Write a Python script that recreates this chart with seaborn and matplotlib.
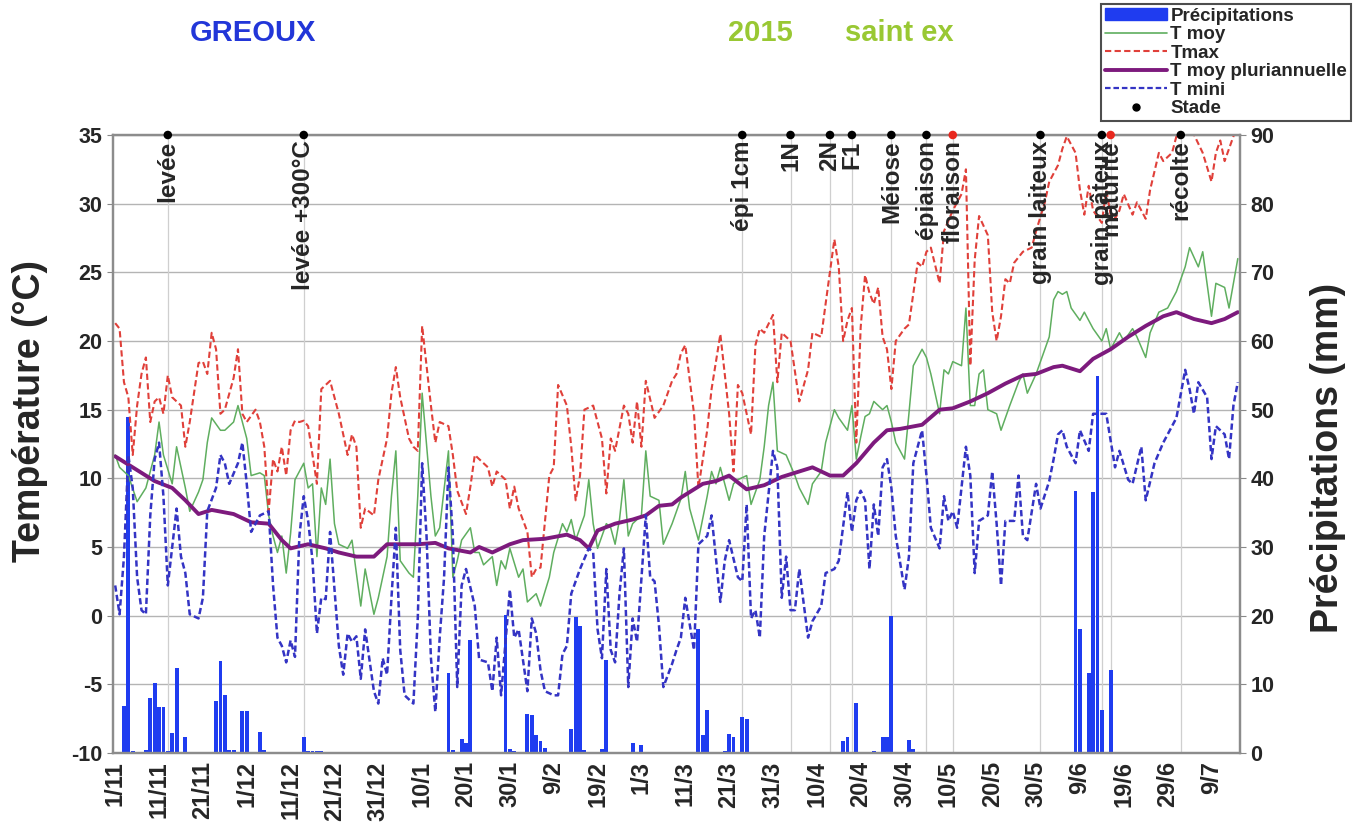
import matplotlib
matplotlib.use("Agg")
import matplotlib.pyplot as plt
from matplotlib.lines import Line2D
from matplotlib.patches import Patch
import seaborn as sns
import pandas as pd

# Daily weather, Gréoux, 1 Nov 2014 -> 15 Jul 2015 (day 0 = 1/11/2014)
START = pd.Timestamp("2014-11-01")
N_DAYS = 257

tmax_day = [0, 1, 2, 3, 4, 5, 6, 7, 8, 9, 10, 11, 12, 13, 15, 16, 17, 19, 20, 21, 22, 23, 24, 25, 27, 28, 29, 30,
            32, 33, 34, 35, 36, 37, 38, 39, 40, 41, 42, 43, 44, 46, 47, 48, 49, 51, 53, 54, 55, 56, 57, 59, 60, 62,
            63, 64, 65, 67, 68, 69, 70, 72, 73, 74, 76, 77, 78, 80, 81, 82, 83, 84, 85, 86, 87, 89, 90, 91, 92, 94,
            95, 96, 97, 99, 100, 101, 103, 104, 105, 106, 107, 109, 111, 112, 113, 114, 116, 117, 118, 119, 120,
            121, 123, 125, 127, 128, 129, 130, 132, 133, 135, 136, 138, 140, 141, 142, 143, 145, 146, 147, 148,
            150, 151, 152, 154, 156, 158, 159, 161, 162, 164, 165, 166, 167, 168, 169, 170, 171, 172, 173, 174,
            175, 176, 177, 178, 180, 181, 183, 184, 185, 186, 188, 189, 191, 193, 194, 195, 196, 197, 199, 200,
            201, 202, 203, 204, 205, 207, 209, 210, 212, 213, 215, 216, 217, 219, 220, 221, 222, 223, 225, 226,
            227, 228, 229, 230, 232, 233, 235, 236, 238, 239, 241, 242, 244, 245, 248, 250, 251, 252, 253, 255, 256]
tmax = [21.3, 20.9, 17.0, 15.9, 11.7, 15.3, 17.6, 18.8, 14.1, 15.6, 15.9, 14.7, 17.5, 15.9, 15.3, 12.3, 14.1, 18.4,
        18.5, 17.6, 20.6, 19.4, 14.7, 15.0, 17.3, 19.4, 14.7, 14.1, 15.0, 14.1, 12.3, 7.6, 11.4, 10.5, 12.3, 10.2,
        13.5, 14.2, 14.1, 14.2, 13.8, 9.6, 16.5, 16.8, 17.1, 14.7, 11.7, 13.2, 12.3, 6.4, 7.8, 7.3, 9.9, 12.9,
        16.2, 18.1, 15.9, 12.9, 12.3, 12.0, 21.1, 15.3, 12.6, 14.1, 13.8, 11.7, 9.1, 7.4, 9.4, 11.7, 11.4, 11.1,
        10.8, 9.4, 10.5, 9.9, 7.8, 9.4, 7.8, 6.1, 2.8, 3.4, 3.5, 10.2, 10.8, 16.8, 15.3, 12.3, 8.4, 10.2, 15.0,
        15.3, 12.9, 8.9, 12.9, 12.0, 15.3, 14.7, 12.6, 15.6, 12.3, 17.1, 14.4, 15.3, 17.1, 17.6, 19.1, 19.7,
        14.7, 9.3, 13.5, 16.5, 20.5, 14.7, 10.5, 16.8, 16.2, 13.2, 19.7, 20.9, 20.6, 21.9, 17.0, 20.6, 20.0,
        15.6, 17.9, 20.6, 20.3, 22.7, 27.4, 25.4, 20.0, 21.5, 22.4, 12.6, 21.0, 24.8, 23.5, 22.7, 23.9, 20.3,
        19.4, 16.5, 20.0, 20.9, 21.2, 25.7, 25.4, 26.5, 26.8, 24.2, 28.0, 29.5, 30.7, 32.5, 18.2, 25.9, 29.1,
        27.7, 22.1, 20.0, 21.8, 24.5, 24.2, 25.7, 26.5, 26.8, 28.0, 30.1, 31.6, 32.8, 34.0, 34.9, 33.7, 31.0,
        29.2, 31.3, 29.5, 28.6, 31.0, 29.2, 28.9, 29.5, 30.7, 29.2, 30.1, 28.9, 31.0, 33.7, 33.1, 33.7, 34.9,
        35.4, 35.7, 33.7, 31.6, 33.7, 34.6, 33.1, 34.9, 35.7]

tmoy_day = [0, 1, 3, 5, 7, 9, 10, 11, 13, 14, 16, 17, 19, 20, 21, 22, 24, 25, 27, 28, 30, 31, 33, 34, 35, 36, 37,
            38, 39, 40, 41, 43, 44, 45, 46, 47, 48, 49, 50, 51, 53, 54, 56, 57, 59, 60, 62, 63, 64, 65, 67, 68, 69,
            70, 72, 73, 74, 76, 77, 78, 79, 81, 82, 83, 84, 86, 87, 88, 89, 90, 92, 93, 94, 96, 97, 99, 100, 102,
            103, 104, 105, 107, 108, 109, 110, 112, 113, 114, 115, 116, 117, 118, 120, 121, 122, 124, 125, 127,
            129, 130, 131, 133, 135, 136, 137, 138, 140, 141, 142, 144, 145, 147, 148, 149, 150, 151, 153, 155,
            156, 158, 159, 161, 162, 164, 165, 167, 168, 169, 170, 171, 172, 173, 175, 176, 177, 178, 180, 181,
            182, 184, 185, 186, 188, 189, 190, 191, 193, 194, 195, 196, 197, 198, 199, 201, 202, 204, 206, 207,
            208, 210, 211, 213, 214, 215, 216, 217, 218, 220, 221, 223, 225, 226, 227, 229, 230, 232, 233, 235,
            236, 238, 240, 242, 244, 245, 247, 248, 250, 251, 253, 254, 256]
tmoy = [11.7, 10.8, 10.2, 8.3, 9.3, 11.7, 14.1, 11.7, 9.6, 12.3, 9.3, 7.6, 9.0, 9.9, 12.6, 14.4, 13.5, 13.5, 14.1,
        15.3, 12.9, 10.2, 10.4, 10.2, 7.3, 5.8, 4.6, 5.8, 3.1, 6.0, 9.9, 11.1, 9.3, 9.6, 4.3, 9.3, 8.1, 11.4, 6.7,
        5.2, 4.9, 5.5, 0.7, 3.4, 0.1, 1.3, 4.3, 8.7, 12.0, 4.0, 3.1, 2.8, 8.7, 16.2, 8.7, 5.8, 6.4, 12.0, 2.8,
        4.0, 5.5, 6.4, 4.6, 4.6, 3.7, 4.3, 2.2, 4.0, 3.4, 4.9, 2.8, 3.4, 1.0, 1.6, 0.7, 2.8, 4.6, 6.7, 6.1, 7.0,
        5.5, 7.3, 9.9, 6.7, 4.9, 6.7, 6.4, 5.2, 7.0, 9.9, 5.8, 6.7, 7.3, 12.0, 8.7, 8.4, 5.2, 6.7, 8.5, 10.5,
        7.8, 5.5, 8.7, 10.5, 9.6, 10.8, 8.4, 9.6, 9.9, 10.2, 8.1, 9.9, 12.3, 15.3, 17.0, 12.0, 11.7, 10.2, 9.3,
        8.1, 9.6, 10.5, 12.6, 15.0, 14.4, 13.5, 15.3, 11.4, 13.0, 14.5, 14.7, 15.6, 15.0, 15.3, 14.1, 12.6,
        11.4, 14.7, 18.2, 19.4, 18.8, 17.6, 14.7, 17.9, 17.6, 18.5, 18.2, 22.4, 15.3, 15.3, 17.6, 17.9, 15.0,
        14.7, 13.5, 15.3, 17.0, 17.6, 16.2, 17.6, 18.5, 20.3, 23.0, 23.6, 23.4, 23.6, 22.4, 21.5, 22.1, 20.9,
        20.0, 20.9, 19.4, 20.6, 20.0, 20.9, 20.3, 18.8, 20.6, 22.1, 22.4, 23.6, 25.4, 26.8, 25.4, 26.5, 21.8,
        24.2, 23.9, 22.4, 26.0]

tpluri_day = [0, 4, 9, 13, 16, 19, 22, 27, 31, 35, 38, 40, 44, 48, 51, 55, 59, 62, 65, 69, 73, 76, 81, 83, 86, 90,
              93, 98, 103, 106, 108, 110, 114, 118, 121, 124, 127, 129, 131, 134, 137, 140, 144, 148, 152, 156,
              159, 163, 166, 169, 173, 176, 179, 184, 188, 191, 195, 199, 203, 207, 210, 214, 216, 220, 223, 227,
              231, 235, 239, 242, 246, 250, 253, 256]
tpluri = [11.6, 10.8, 9.8, 9.3, 8.4, 7.4, 7.7, 7.4, 6.8, 6.7, 5.5, 4.9, 5.2, 4.9, 4.6, 4.3, 4.3, 5.2, 5.2, 5.2,
          5.3, 4.9, 4.6, 5.0, 4.6, 5.2, 5.5, 5.6, 5.9, 5.5, 4.9, 6.2, 6.7, 7.0, 7.3, 8.0, 8.1, 8.6, 9.0, 9.6,
          9.8, 10.2, 9.2, 9.5, 10.1, 10.5, 10.8, 10.2, 10.2, 11.1, 12.6, 13.5, 13.6, 13.9, 15.0, 15.1, 15.6,
          16.2, 16.9, 17.5, 17.6, 18.1, 18.2, 17.8, 18.7, 19.4, 20.3, 21.1, 21.8, 22.1, 21.6, 21.3, 21.6, 22.1]

tmin_day = [0, 1, 2, 3, 4, 5, 6, 7, 8, 9, 10, 11, 12, 14, 15, 16, 17, 19, 20, 21, 23, 24, 25, 26, 28, 29, 30, 31,
            33, 35, 36, 37, 38, 39, 40, 41, 42, 43, 44, 45, 46, 47, 48, 49, 51, 52, 53, 54, 55, 56, 57, 59, 60, 61,
            62, 63, 64, 65, 66, 68, 69, 70, 71, 72, 73, 74, 75, 76, 77, 78, 79, 80, 82, 83, 85, 86, 87, 88, 90, 91,
            92, 94, 95, 96, 97, 98, 100, 101, 102, 103, 104, 105, 106, 108, 109, 110, 111, 112, 113, 114, 115, 116,
            117, 118, 119, 121, 122, 123, 124, 125, 127, 128, 129, 130, 132, 133, 135, 136, 138, 139, 140, 142, 143,
            144, 145, 146, 147, 148, 150, 151, 152, 153, 154, 155, 156, 158, 159, 161, 162, 164, 165, 167, 168, 169,
            170, 171, 172, 173, 174, 175, 176, 177, 178, 180, 181, 182, 184, 185, 186, 188, 189, 190, 191, 192, 194,
            195, 196, 197, 199, 200, 201, 202, 203, 205, 206, 207, 208, 210, 211, 213, 214, 215, 216, 217, 219, 220,
            222, 223, 225, 226, 228, 229, 231, 232, 234, 235, 237, 239, 240, 242, 244, 245, 246, 247, 249, 250, 251,
            253, 254, 255, 256]
tmin = [2.2, 0.1, 4.3, 11.7, 9.3, 2.8, 0.4, 0.1, 7.3, 11.4, 12.6, 8.7, 2.2, 7.8, 4.3, 3.1, 0.1, -0.2, 1.3, 7.6, 9.3,
        11.7, 11.1, 9.6, 11.1, 12.6, 9.6, 6.1, 7.3, 7.6, 2.2, -1.6, -2.2, -3.4, -1.8, -3.0, 5.8, 8.7, 6.9, 4.0,
        -1.3, 1.3, 1.2, 6.1, -2.2, -4.3, -1.3, -1.9, -1.5, -4.6, -1.0, -5.5, -6.4, -3.1, -4.3, 1.3, 6.4, -2.5,
        -5.8, -6.4, -0.2, 11.1, 5.8, -3.1, -7.0, -1.6, 2.8, 10.8, 5.8, -5.2, 2.2, 3.4, 0.7, -3.2, -3.4, -5.5,
        -1.6, -5.8, 1.9, -1.6, -1.0, -5.5, -0.2, -1.3, -4.0, -5.5, -5.8, -5.8, -2.8, -2.2, 1.6, 2.5, 3.4, 4.9,
        4.6, -1.0, -3.1, 3.4, -2.5, -3.4, 1.6, 4.9, -5.2, -0.2, -1.9, 7.3, 2.8, 2.5, -0.7, -5.2, -3.5, -2.5,
        -1.6, 1.3, -2.5, 5.2, 5.8, 7.3, 1.0, 4.0, 5.5, 2.8, 2.5, 8.1, -0.2, 0.4, -1.6, 5.8, 12.0, 10.8, 1.3, 4.3,
        0.4, 0.4, 3.4, -1.6, -0.4, 0.7, 3.1, 3.4, 4.0, 9.0, 6.1, 8.4, 9.1, 8.4, 3.4, 8.1, 5.8, 10.8, 11.4, 9.3,
        5.8, 1.9, 4.3, 11.1, 13.5, 10.2, 6.4, 4.9, 8.7, 6.9, 7.6, 6.4, 12.3, 10.2, 3.1, 6.9, 7.3, 10.5, 6.7, 2.2,
        6.9, 6.9, 10.2, 5.8, 5.5, 9.6, 7.8, 9.8, 11.4, 13.2, 13.5, 12.3, 11.1, 13.5, 12.0, 14.7, 14.7, 14.7,
        10.8, 12.0, 9.9, 9.6, 12.3, 8.4, 11.1, 12.6, 13.2, 14.4, 17.9, 16.5, 14.7, 17.0, 15.9, 11.4, 13.8, 13.2,
        11.4, 15.3, 17.0]

precip_day = [2, 3, 4, 7, 8, 9, 10, 11, 12, 13, 14, 16, 17, 18, 19, 21, 23, 24, 25, 26, 27, 29, 30, 33, 34, 36, 39,
              43, 44, 45, 46, 47, 52, 53, 56, 60, 63, 66, 69, 76, 77, 79, 80, 81, 86, 89, 90, 91, 94, 95, 96, 97,
              98, 101, 103, 104, 105, 106, 107, 111, 112, 118, 120, 121, 126, 128, 129, 133, 134, 135, 136, 137,
              139, 140, 141, 143, 144, 159, 163, 166, 167, 169, 170, 173, 175, 176, 177, 181, 182, 190, 194, 205,
              211, 219, 220, 222, 223, 224, 225, 227]
precip = [6.8, 49.0, 0.3, 0.4, 8.0, 10.2, 6.7, 6.7, 0.3, 2.9, 12.4, 2.3, 0.2, 0.2, 0.2, 0.2, 7.6, 13.4, 8.5, 0.5,
          0.5, 6.1, 6.1, 3.1, 0.4, 0.1, 0.1, 2.3, 0.3, 0.3, 0.3, 0.3, 0.1, 0.1, 0.1, 0.1, 0.1, 0.1, 0.1, 11.6, 0.4,
          2.0, 1.5, 16.4, 0.1, 20.1, 0.6, 0.3, 5.7, 5.5, 2.6, 1.7, 0.8, 0.1, 0.2, 3.5, 19.8, 18.5, 0.4, 0.6, 13.5,
          1.5, 1.1, 0.2, 0.1, 0.2, 0.2, 18.0, 2.6, 6.2, 0.2, 0.2, 0.3, 2.8, 2.4, 5.2, 5.0, 0.1, 0.1, 1.8, 2.4,
          7.3, 0.1, 0.3, 2.4, 2.4, 20.0, 1.9, 0.6, 0.1, 0.1, 0.1, 0.1, 38.2, 18.0, 11.6, 38.0, 54.9, 6.3, 12.1]

stade_names = ["levée", "levée +300°C", "épi 1cm", "1N", "2N", "F1", "Méiose", "épiaison", "floraison",
               "grain laiteux", "grain pâteux", "maturité", "récolte"]
stade_dates = ["13/11/2014", "14/12/2014", "24/03/2015", "04/04/2015", "13/04/2015", "18/04/2015",
               "27/04/2015", "05/05/2015", "11/05/2015", "31/05/2015", "14/06/2015", "16/06/2015", "02/07/2015"]
stade_red = ["floraison", "maturité"]

x_tick_labels = ["1/11", "11/11", "21/11", "1/12", "11/12", "21/12", "31/12", "10/1", "20/1", "30/1", "9/2",
                 "19/2", "1/3", "11/3", "21/3", "31/3", "10/4", "20/4", "30/4", "10/5", "20/5", "30/5", "9/6",
                 "19/6", "29/6", "9/7"]

C_RAIN = "#1f3cf0"
C_TMOY = "#5fae5f"
C_TMAX = "#e0403a"
C_PLURI = "#7d1a7d"
C_TMIN = "#3434c4"

sns.set_style("white")
plt.rcParams["font.family"] = ["Liberation Sans", "DejaVu Sans"]
plt.rcParams["axes.unicode_minus"] = False

fig = plt.figure(figsize=(13.6, 8.34), dpi=100)
ax_t = fig.add_axes([113 / 1360, 1 - 753 / 834, (1240 - 113) / 1360, (753 - 135) / 834])
ax_p = ax_t.twinx()
ax_t.set_zorder(ax_p.get_zorder() + 1)
ax_t.patch.set_visible(False)

stade_days = [(pd.to_datetime(s, dayfirst=True) - START).days for s in stade_dates]

# precipitation bars (right axis)
ax_p.bar(precip_day, precip, width=0.88, color=C_RAIN, linewidth=0, zorder=2)
ax_p.set_ylim(0, 90)
ax_p.set_yticks(range(0, 91, 10))
ax_p.yaxis.grid(True, color="#b4b4b4", lw=1.0)
ax_p.set_axisbelow(True)
for d in stade_days:
    ax_p.axvline(d, color="#cfcfcf", lw=0.9, zorder=0.6)

# temperatures (left axis)
sns.lineplot(x=tmoy_day, y=tmoy, ax=ax_t, color=C_TMOY, lw=1.1, estimator=None)
sns.lineplot(x=tmax_day, y=tmax, ax=ax_t, color=C_TMAX, lw=1.5, ls=(0, (3, 1.6)), estimator=None)
sns.lineplot(x=tpluri_day, y=tpluri, ax=ax_t, color=C_PLURI, lw=2.8, estimator=None)
sns.lineplot(x=tmin_day, y=tmin, ax=ax_t, color=C_TMIN, lw=1.8, ls=(0, (2.5, 1.3)), estimator=None)

black_days = [d for d, n in zip(stade_days, stade_names) if n not in stade_red]
red_days = [d for d, n in zip(stade_days, stade_names) if n in stade_red]
sns.scatterplot(x=black_days, y=[35] * len(black_days), ax=ax_t, color="black", s=38,
                edgecolor="none", clip_on=False, zorder=6)
sns.scatterplot(x=red_days, y=[35] * len(red_days), ax=ax_t, color="#e8281e", s=38,
                edgecolor="none", clip_on=False, zorder=6)
for d, name in zip(stade_days, stade_names):
    ax_t.text(d, 34.6, name, rotation=90, ha="center", va="top", fontsize=17.5, weight="bold")

ax_t.set_ylim(-10, 35)
ax_t.set_yticks(range(-10, 36, 5))
ax_t.set_xlim(-0.5, N_DAYS - 0.5)
ax_t.set_xticks(range(0, N_DAYS, 10))
ax_t.set_xticklabels(x_tick_labels, rotation=90, fontsize=17, weight="bold")
ax_t.tick_params(axis="y", labelsize=15.5, length=4, color="#888888")
ax_t.tick_params(axis="x", length=0, pad=6)
ax_p.tick_params(axis="y", labelsize=15.5, length=4, color="#888888")
for lab in ax_t.get_yticklabels() + ax_p.get_yticklabels():
    lab.set_fontweight("bold")
ax_t.set_xlabel("")
ax_t.set_ylabel("Température (°C)", fontsize=27, weight="bold")
ax_t.yaxis.set_label_coords(-0.058, 0.553)
ax_p.set_ylabel("Précipitations (mm)", fontsize=27, weight="bold")
ax_p.yaxis.set_label_coords(1.062, 0.478)
for ax in (ax_t, ax_p):
    for sp in ax.spines.values():
        sp.set_color("#8c8c8c")
        sp.set_linewidth(1.6)

fig.text(253 / 1360, 1 - 33 / 834, "GREOUX", ha="center", va="center", color="#2236d8",
         fontsize=21, weight="bold")
fig.text(760 / 1360, 1 - 33 / 834, "2015", ha="center", va="center", color="#99c833",
         fontsize=21, weight="bold")
fig.text(899 / 1360, 1 - 33 / 834, "saint ex", ha="center", va="center", color="#99c833",
         fontsize=21, weight="bold")

handles = [
    Patch(color=C_RAIN),
    Line2D([], [], color=C_TMOY, lw=1.2),
    Line2D([], [], color=C_TMAX, lw=1.5, ls=(0, (3, 1.6))),
    Line2D([], [], color=C_PLURI, lw=2.8),
    Line2D([], [], color=C_TMIN, lw=1.6, ls=(0, (2.5, 1.3))),
    Line2D([], [], color="black", lw=0, marker="o", markersize=5),
]
labels = ["Précipitations", "T moy", "Tmax", "T moy pluriannuelle", "T mini", "Stade"]
leg = fig.legend(handles, labels, loc="upper right", bbox_to_anchor=(1351 / 1360, 1 - 4 / 834),
                 frameon=True, fancybox=False, prop={"weight": "bold", "size": 13.5},
                 handlelength=3.3, handleheight=0.6, labelspacing=0.08, borderpad=0.2,
                 handletextpad=0.2, borderaxespad=0)
leg.get_frame().set_edgecolor("#222222")
leg.get_frame().set_linewidth(1.5)

fig.savefig("out.png", dpi=100)
